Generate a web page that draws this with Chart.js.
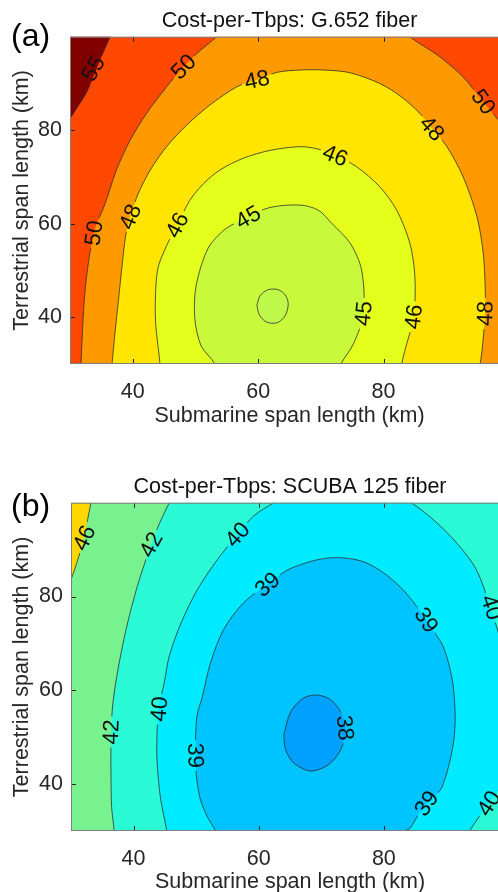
<!DOCTYPE html>
<html>
<head>
<meta charset="utf-8">
<script src="https://cdn.jsdelivr.net/npm/chart.js@4.4.0/dist/chart.umd.min.js"></script>
<style>
  html, body { margin: 0; padding: 0; background: #fff; overflow: hidden; }
  body { width: 498px; height: 892px; position: relative; }
  canvas { position: absolute; left: 0; }
  .tag { position: absolute; left: 11px; font-family: 'Liberation Sans', Arial, sans-serif; font-size: 32px; line-height: 1; color: #000; }
</style>
</head>
<body>
<canvas id="chartA" width="512" height="446" style="top:0"></canvas>
<canvas id="chartB" width="512" height="446" style="top:466px"></canvas>
<div class="tag" style="top:19px">(a)</div>
<div class="tag" style="top:489px">(b)</div>
<script>
// tick values on both axes (km)
const xTicks = [40, 60, 80];
const yTicks = [40, 60, 80];

// (a) G.652: contour lines, [submarine km, terrestrial km]
const a55 = [[37.2, 102], [36.4, 100], [35.1, 96], [33.9, 92], [32.6, 88], [31.2, 85], [30, 82.5], [29, 80.5]];
const a50west = [[31.6, 27], [31.75, 30], [32.1, 40], [32.5, 47], [33.2, 54], [34.0, 59], [35.6, 64.3], [37.4, 71.5],
  [39.6, 77.9], [42.2, 83.6], [45.4, 89.3], [48.1, 93.6], [50.2, 96.4], [53.4, 100], [55, 102]];
const a50east = [[83.0, 102], [84.2, 100], [87.0, 97.5], [89.0, 95.7], [92.7, 91.4], [95.9, 86.1], [98.3, 82.2], [100, 79.5], [101.5, 77]];
const a48 = [[36.5, 27], [36.7, 30], [37.2, 37], [37.7, 43.3], [38.3, 51], [38.9, 57.6], [39.7, 62], [40.9, 66.5],
  [42.8, 71.5], [45.4, 76.5], [48.6, 81.1], [52.3, 85.4], [56.6, 89.3], [59.8, 90.8], [63.0, 92.4], [66.7, 92.9],
  [70.5, 92.9], [74.7, 92.3], [79.4, 90.0], [82.8, 87.2], [85.8, 83.6], [87.7, 80.4], [90.1, 76.5], [92.7, 70.0],
  [94.9, 61.5], [95.9, 53.6], [96.2, 46.5], [96.2, 40.8], [95.7, 32.9], [95.4, 30], [95.2, 27]];
const a46 = [[44.4, 27], [44.35, 30], [43.7, 38], [43.6, 43.1], [44.0, 50.4], [45.4, 55.3], [47.1, 59.7], [49.1, 65.0],
  [51.3, 68.6], [53.9, 71.5], [57.6, 74.0], [61.9, 75.7], [66.7, 76.5], [69.5, 76.0], [72.3, 74.6], [75.7, 72.2],
  [79.4, 67.9], [82.1, 62.9], [84.2, 55.8], [85.0, 48.6], [84.8, 40.1], [83.4, 32.9], [82.9, 30], [82.7, 27]];
const a45 = [[53.5, 27], [53.1, 30], [50.9, 33.9], [49.9, 39.7], [50.1, 46.7], [52.0, 54.7], [54.7, 58.8], [58.4, 61.5],
  [61.9, 63.5], [66.7, 64.0], [69.6, 62.9], [71.8, 60.0], [74.7, 55.8], [76.5, 50.1], [76.8, 40.8], [75.2, 34.3], [73.2, 30], [72.5, 27]];
const a44 = [[59.8, 42.5], [60.3, 44.6], [61.6, 45.9], [63.2, 45.9], [64.3, 44.8], [64.8, 42.9], [64.3, 40.3],
  [63.0, 38.8], [61.3, 39.0], [60.2, 40.5], [59.8, 42.5]];

// (b) SCUBA 125
const b46 = [[33.6, 101.5], [33.2, 100], [32.6, 96], [32.0, 92], [31.0, 87.5], [30, 83.6], [29.2, 81]];
const b42 = [[37.0, 27], [36.9, 30], [36.5, 35], [36.4, 40.2], [36.4, 50.9], [36.7, 57.3], [37.5, 64.4], [38.8, 73.0],
  [40.6, 82.2], [42.8, 91.1], [44.1, 95.5], [45.7, 100], [46.3, 101.5]];
const b40 = [[45.5, 27], [45.3, 30], [44.35, 36.6], [43.9, 42], [43.7, 47.3], [44.0, 56.2], [44.9, 61.6], [45.7, 67.3],
  [47.6, 74.4], [50.2, 81.5], [53.4, 87.9], [56.6, 93.2], [59.2, 97.2], [62.4, 100], [64.5, 101.5], [82, 101.5],
  [84.4, 100], [87.9, 96.4], [91.6, 91.5], [94.8, 85.7], [97.0, 77.8], [98.3, 72.3], [99.6, 66], [100.6, 57],
  [100.5, 47], [99.4, 42], [98.3, 38.7], [96.7, 36.0], [95.2, 33], [93.8, 30.2], [92.6, 27]];
const b39 = [[53.6, 27], [53.1, 30], [51.8, 33], [50.7, 36.6], [50.1, 41], [49.9, 45.8], [50.1, 54.3], [51.0, 58.7],
  [52.3, 65.9], [54.4, 73.0], [57.6, 78.7], [61.4, 82.6], [64.5, 85.6], [66.7, 86.8], [69.2, 87.8], [71.9, 88.3],
  [74.6, 88.1], [77.2, 87.2], [80, 85], [82.6, 82.1], [84.8, 78.7], [86.8, 75.0], [88.3, 72], [89.5, 69.3],
  [90.5, 65], [91.1, 60.7], [91.4, 54.3], [91.2, 49.5], [90.6, 45.2], [89.9, 41.7], [89.0, 38.7], [86.8, 36.0],
  [85.3, 33], [84.2, 30.6], [83.4, 30], [82.9, 27]];
const b38 = [[64.0, 50.5], [65.1, 55.4], [67.2, 58.4], [69.4, 59.0], [71.5, 58.0], [73.1, 55.4], [73.9, 51.6],
  [73.1, 47.3], [71.1, 44.1], [68.3, 42.8], [65.6, 44.5], [64.3, 47.3], [64.0, 50.5]];

// contour labels: text, x, y, angle (deg)
const aLabels = [
  ['55', 33.7, 93.2, -60], ['50', 48.1, 93.6, -45], ['48', 59.8, 90.8, -12], ['50', 33.8, 58.0, -82],
  ['48', 39.6, 61.5, -68], ['46', 47.1, 59.7, -62], ['45', 58.4, 61.4, -30], ['46', 72.3, 74.6, 22],
  ['48', 87.7, 80.4, 48], ['50', 95.9, 86.1, 55], ['45', 76.8, 40.8, -85], ['46', 84.8, 40.1, -83], ['48', 96.2, 40.8, -88]
];
const bLabels = [
  ['46', 32.1, 92.5, -65], ['42', 42.8, 91.1, -62], ['40', 56.6, 93.2, -48], ['39', 61.4, 82.6, -40],
  ['42', 36.4, 51.1, -88], ['40', 44.1, 56.0, -86], ['39', 49.9, 46.1, 88], ['38', 73.8, 52.0, 85],
  ['39', 86.8, 75.0, 57], ['40', 97.2, 77.7, 72], ['39', 86.8, 35.9, -55], ['40', 96.8, 35.9, -58]
];

const FONT = "'Liberation Sans', Arial, sans-serif";
const INK = '#262626';

const pts = arr => arr.map(([x, y]) => ({x, y}));

// backdrop colour for the highest band, drawn under the filled contours
const backdrop = color => ({
  id: 'backdrop',
  beforeDatasetsDraw(chart) {
    const {ctx, chartArea: a} = chart;
    ctx.save();
    ctx.fillStyle = color;
    ctx.fillRect(a.left, a.top, a.width, a.height);
    ctx.restore();
  }
});

// axes box with inward ticks (MATLAB style)
const frame = {
  id: 'frame',
  afterDatasetsDraw(chart) {
    const {ctx, chartArea: a, scales: {x, y}} = chart;
    ctx.save();
    ctx.strokeStyle = INK;
    ctx.lineWidth = 1;
    ctx.beginPath();
    xTicks.forEach(v => {
      const p = Math.round(x.getPixelForValue(v)) + 0.5;
      ctx.moveTo(p, a.bottom); ctx.lineTo(p, a.bottom - 5);
      ctx.moveTo(p, a.top); ctx.lineTo(p, a.top + 5);
    });
    yTicks.forEach(v => {
      const p = Math.round(y.getPixelForValue(v)) + 0.5;
      ctx.moveTo(a.left, p); ctx.lineTo(a.left + 5, p);
      ctx.moveTo(a.right, p); ctx.lineTo(a.right - 5, p);
    });
    ctx.stroke();
    ctx.strokeStyle = '#808080';
    ctx.strokeRect(a.left + 0.5, a.top + 0.5, a.width - 1, a.height - 1);
    ctx.restore();
  }
};

const LABEL_FONT = '22.5px ' + FONT;

function labelBoxes(chart, list) {
  const {ctx, scales: {x, y}} = chart;
  ctx.font = LABEL_FONT;
  return list.map(([t, vx, vy, deg]) => ({
    t, px: x.getPixelForValue(vx), py: y.getPixelForValue(vy),
    a: deg * Math.PI / 180, w: ctx.measureText(t).width + 6, h: 16
  }));
}

// contour labels; the lines are clipped so they break under each label
const contourLabels = list => ({
  id: 'contourLabels',
  beforeDatasetDraw(chart, args) {
    if (!chart.data.datasets[args.index].contour) return;
    const ctx = chart.ctx;
    ctx.save();
    ctx.beginPath();
    ctx.rect(0, 0, chart.width, chart.height);
    labelBoxes(chart, list).forEach(b => {
      const c = Math.cos(b.a), s = Math.sin(b.a), hw = b.w / 2, hh = b.h / 2;
      [[-hw, -hh], [hw, -hh], [hw, hh], [-hw, hh]].forEach(([u, v], i) => {
        const X = b.px + u * c - v * s, Y = b.py + u * s + v * c;
        i ? ctx.lineTo(X, Y) : ctx.moveTo(X, Y);
      });
      ctx.closePath();
    });
    ctx.clip('evenodd');
  },
  afterDatasetDraw(chart, args) {
    if (chart.data.datasets[args.index].contour) chart.ctx.restore();
  },
  afterDatasetsDraw(chart) {
    const ctx = chart.ctx;
    const a = chart.chartArea;
    ctx.save();
    ctx.beginPath();
    ctx.rect(a.left, a.top, a.width, a.height);
    ctx.clip();
    labelBoxes(chart, list).forEach(b => {
      ctx.save();
      ctx.translate(b.px, b.py);
      ctx.rotate(b.a);
      ctx.fillStyle = '#111';
      ctx.textAlign = 'center';
      ctx.textBaseline = 'middle';
      ctx.fillText(b.t, 0, 1);
      ctx.restore();
    });
    ctx.restore();
  }
});

function makeChart(id, title, base, regions, lines, labels, yWidth, xHeight) {
  const datasets = regions.map((r, i) => ({
    data: pts(r[0]), fill: 'shape', backgroundColor: r[1],
    borderWidth: 0, borderColor: 'rgba(0,0,0,0)', pointRadius: 0, tension: 0.3, order: 50 - i
  })).concat(lines.map(l => ({
    data: pts(l), fill: false, borderColor: '#303030', borderWidth: 0.8,
    pointRadius: 0, tension: 0.3, order: 0, contour: true
  })));

  new Chart(document.getElementById(id), {
    type: 'line',
    data: {datasets},
    options: {
      responsive: false,
      animation: false,
      events: [],
      elements: {line: {capBezierPoints: false}},
      layout: {padding: {left: 0, right: 3, top: 0, bottom: 0}},
      plugins: {
        legend: {display: false},
        tooltip: {enabled: false},
        title: {
          display: true, text: title, fullSize: false, color: '#111',
          font: {size: 21.5, family: FONT, weight: 'normal'},
          padding: {top: 8, bottom: 3}
        }
      },
      scales: {
        x: {
          type: 'linear', min: 30, max: 100,
          afterBuildTicks: s => { s.ticks = xTicks.map(v => ({value: v})); },
          afterFit: s => { s.height = xHeight; },
          grid: {display: false, drawTicks: false},
          border: {display: false},
          ticks: {color: INK, font: {size: 21.5, family: FONT}, padding: 15, maxRotation: 0},
          title: {display: true, text: 'Submarine span length (km)', color: INK,
            font: {size: 21.5, family: FONT}, padding: {top: 0, bottom: 17}}
        },
        y: {
          type: 'linear', min: 30, max: 100,
          afterBuildTicks: s => { s.ticks = yTicks.map(v => ({value: v})); },
          afterFit: s => { s.width = yWidth; },
          grid: {display: false, drawTicks: false},
          border: {display: false},
          ticks: {color: INK, font: {size: 21.5, family: FONT}, padding: 8},
          title: {display: true, text: 'Terrestrial span length (km)', color: INK,
            font: {size: 21.5, family: FONT}, padding: {top: 9, bottom: 0}}
        }
      }
    },
    plugins: [backdrop(base), frame, contourLabels(labels)]
  });
}

makeChart('chartA', 'Cost-per-Tbps: G.652 fiber', '#ff4800', [
  [a55.concat([[20, 80], [20, 110], [40, 110]]), '#800000'],
  [a50west.concat(a50east, [[104, 70], [104, 20], [30, 20]]), '#ff9900'],
  [a48, '#ffe500'],
  [a46, '#e4ff1c'],
  [a45, '#c8f93a'],
  [a44, '#bdf84a']
], [a55, a50west, a50east, a48, a46, a45, a44], aLabels, 70, 82);

makeChart('chartB', 'Cost-per-Tbps: SCUBA 125 fiber', '#78f28e', [
  [b46.concat([[20, 80], [20, 110]]), '#ffd600'],
  [b42.concat([[105, 102], [105, 20], [36.8, 20]]), '#2afbd6'],
  [b40, '#00ebff'],
  [b39, '#00c4ff'],
  [b38, '#00a0ff']
], [b46, b42, b40, b39, b38], bLabels, 71, 81);
</script>
</body>
</html>
